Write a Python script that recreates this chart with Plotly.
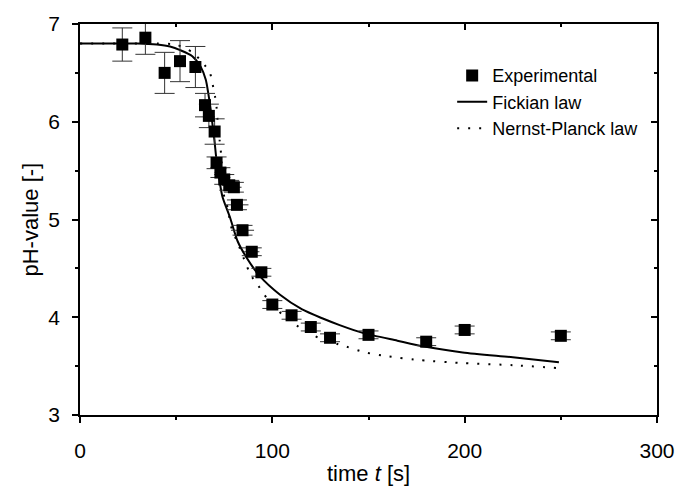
import plotly.graph_objects as go

# experimental points
t_exp = [22, 34, 44, 52, 60, 65, 67, 70, 71, 73, 75, 77.6, 80, 81.6, 84.5, 89.3, 94.3,
         100, 110, 120, 130, 150, 180, 200, 250]
ph_exp = [6.79, 6.86, 6.50, 6.62, 6.56, 6.17, 6.06, 5.90, 5.58, 5.48, 5.41, 5.35, 5.33,
          5.15, 4.89, 4.67, 4.46, 4.13, 4.02, 3.90, 3.79, 3.82, 3.75, 3.87, 3.81]
ph_err = [0.17, 0.17, 0.21, 0.21, 0.21, 0.12, 0.12, 0.13, 0.06, 0.05, 0.05, 0.05, 0.05,
          0.05, 0.05, 0.04, 0.04, 0.04, 0.04, 0.04, 0.04, 0.04, 0.04, 0.04, 0.04]
t_err = [0, 0, 0, 0, 0, 0, 0, 0, 0, 3, 3, 3, 4, 6, 6, 4, 3, 2, 2, 2, 2, 2, 2, 2, 2]

# Fickian law model
t_fick = [0, 30, 40, 46.8, 52.4, 58.4, 62.8, 65.4, 66.7, 68, 69.2, 69.9, 71, 72.5, 74.1, 78,
          81.9, 86, 93.5, 104, 115.5, 125.9, 135, 147, 165, 179, 199, 225, 249]
ph_fick = [6.8, 6.8, 6.79, 6.77, 6.73, 6.67, 6.56, 6.43, 6.29, 6.12, 5.92, 5.81, 5.60, 5.40,
           5.23, 5.02, 4.78, 4.63, 4.42, 4.23, 4.08, 3.99, 3.92, 3.84, 3.76, 3.70, 3.64,
           3.59, 3.54]

# Nernst-Planck law model
t_np = [0, 20, 40, 50, 58.5, 64, 67.6, 69, 70.2, 71, 71.5, 72.6, 73.3, 75, 76.8, 78.5,
        82.8, 86.2, 88.8, 92.8, 97, 105, 113.8, 125, 136.7, 148.3, 160, 177.3, 200, 225, 249]
ph_np = [6.8, 6.8, 6.8, 6.79, 6.71, 6.60, 6.50, 6.38, 6.26, 6.15, 6.02, 5.81, 5.68, 5.23,
         5.12, 4.93, 4.72, 4.55, 4.43, 4.32, 4.20, 4.03, 3.90, 3.78, 3.71, 3.64, 3.60, 3.56,
         3.53, 3.51, 3.48]

font = "Arial, Liberation Sans, sans-serif"

fig = go.Figure()

fig.add_trace(go.Scatter(
    x=t_fick, y=ph_fick, mode="lines", name="Fickian law", legendrank=2, legendgroup="b",
    line=dict(color="black", width=2, shape="spline", smoothing=0.7)))

fig.add_trace(go.Scatter(
    x=t_np, y=ph_np, mode="lines", name="Nernst-Planck law", legendrank=3, legendgroup="c",
    line=dict(color="black", width=2, dash="2px,9px", shape="spline", smoothing=0.5)))

fig.add_trace(go.Scatter(
    x=t_exp, y=ph_exp, mode="markers", name="Experimental", legendrank=1, legendgroup="a",
    marker=dict(symbol="square", size=12, color="black"),
    error_y=dict(type="data", array=ph_err, color="#333333", thickness=1, width=10),
    error_x=dict(type="data", array=t_err, color="#333333", thickness=1, width=0)))

# invisible trace to carry the top/right mirror axes
fig.add_trace(go.Scatter(x=[0], y=[3], xaxis="x2", yaxis="y2", mode="markers",
                         marker=dict(opacity=0), showlegend=False, hoverinfo="skip"))

axis_common = dict(showgrid=False, zeroline=False, showline=True, linecolor="black",
                   linewidth=1.5, tickcolor="black", tickwidth=1.5, automargin=False)

fig.update_layout(
    width=678, height=486,
    margin=dict(l=80, r=21, t=24, b=71),
    plot_bgcolor="white", paper_bgcolor="white",
    font=dict(family=font, size=22, color="black"),
    showlegend=True,
    legend=dict(x=0.645, y=0.915, xanchor="left", yanchor="top",
                bgcolor="rgba(0,0,0,0)", font=dict(size=18),
                traceorder="grouped", tracegroupgap=0),
    xaxis=dict(range=[0, 300], dtick=100, ticks="outside", ticklen=6,
               tickfont=dict(size=21), ticklabelstandoff=10,
               minor=dict(dtick=50, ticks="outside", ticklen=3, tickcolor="black"),
               **axis_common),
    yaxis=dict(range=[3, 7], dtick=1, ticks="outside", ticklen=6,
               tickfont=dict(size=21), ticklabelstandoff=8,
               minor=dict(dtick=0.5, ticks="outside", ticklen=3, tickcolor="black"),
               **axis_common),
    xaxis2=dict(range=[0, 300], dtick=100, overlaying="x", side="top", anchor="y2",
                ticks="inside", ticklen=6, showticklabels=False,
                minor=dict(dtick=50, ticks="inside", ticklen=3, tickcolor="black"),
                **axis_common),
    yaxis2=dict(range=[3, 7], dtick=1, overlaying="y", side="right", anchor="x2",
                ticks="inside", ticklen=6, showticklabels=False,
                minor=dict(dtick=0.5, ticks="inside", ticklen=3, tickcolor="black"),
                **axis_common),
)

# axis titles as annotations so they can sit exactly where the original has them
fig.add_annotation(text="time <i>t</i> [s]", xref="paper", yref="paper", x=0.5, y=0,
                   yshift=-58, xanchor="center", yanchor="middle", showarrow=False,
                   font=dict(size=22))
fig.add_annotation(text="pH-value [-]", xref="paper", yref="paper", x=0, y=0.5,
                   xshift=-50, xanchor="center", yanchor="middle", textangle=-90,
                   showarrow=False, font=dict(size=22))

# drop the default 8px page margin so the figure sits at the window's corner
fig.write_html("out.html", config={"displayModeBar": False},
               post_script="document.body.style.margin='0px';"
                           "document.body.style.overflow='hidden';")
